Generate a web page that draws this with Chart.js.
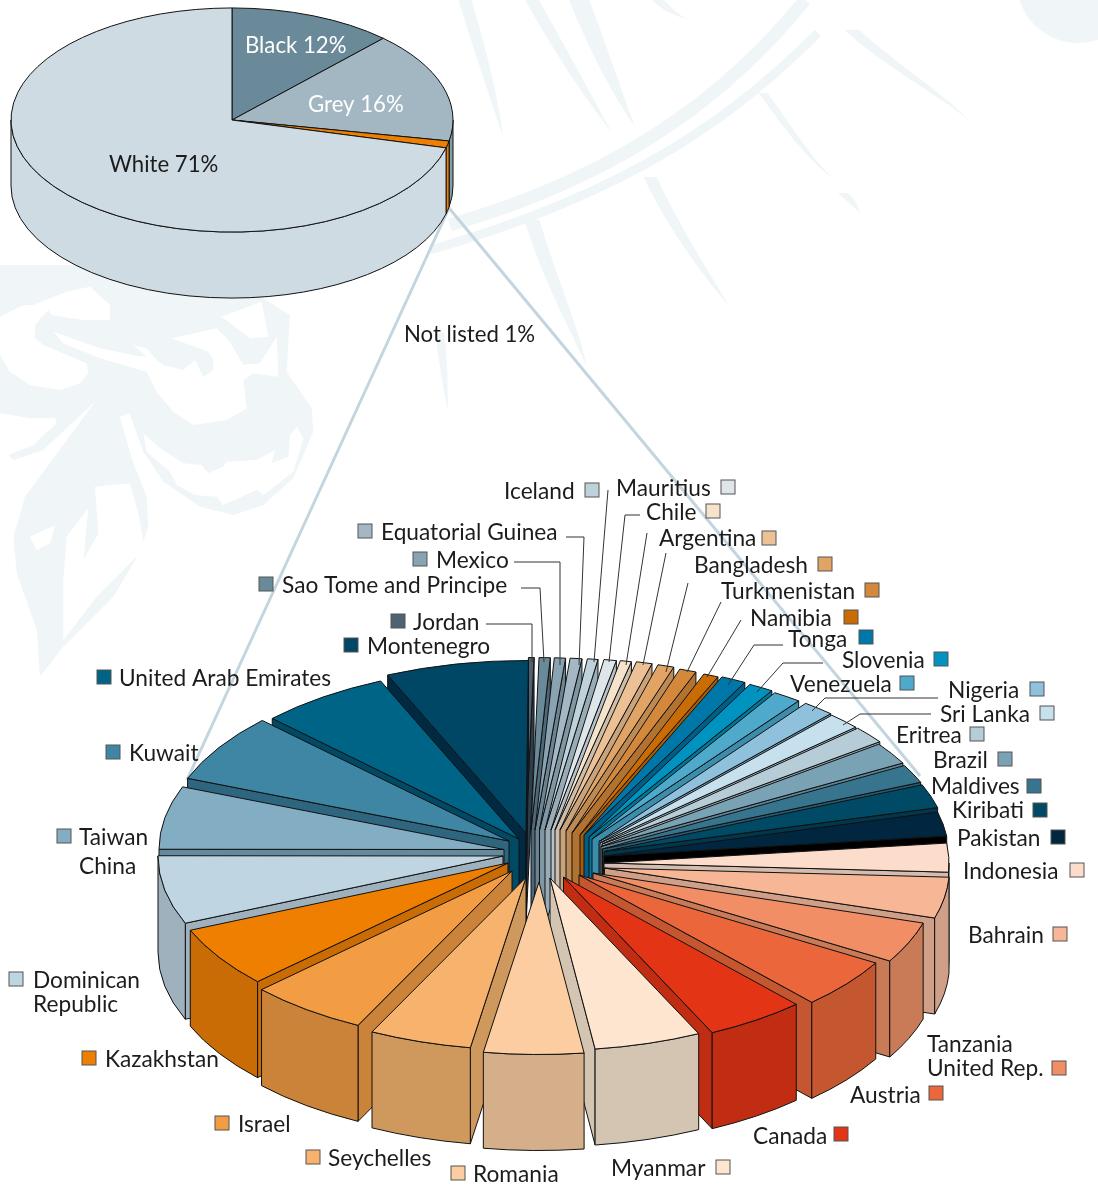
<!DOCTYPE html>
<html>
<head>
<meta charset="utf-8">
<title>Skin colour</title>
<script src="https://cdn.jsdelivr.net/npm/chart.js@4/dist/chart.umd.js"></script>
<style>
  html, body { margin: 0; padding: 0; background: #fff; overflow: hidden; }
  #wrap { position: relative; width: 1098px; height: 1186px; }
  canvas { position: absolute; left: 0; top: 0; }
</style>
</head>
<body>
<div id="wrap">
  <canvas id="detailPie" width="1098" height="1186"></canvas>
  <canvas id="mainPie" width="1098" height="1186"></canvas>
</div>
<script>
// top pie
const mainNames = ['Black', 'Grey', 'Not listed', 'White'];
const mainValues = [12, 16, 1, 71];

// lower pie: share of the "not listed" slice, clockwise from 12 o'clock
const countries = ['Jordan', 'Sao Tome and Principe', 'Mexico', 'Equatorial Guinea', 'Iceland', 'Mauritius',
  'Chile', 'Argentina', 'Bangladesh', 'Turkmenistan', 'Namibia', 'Tonga', 'Slovenia', 'Venezuela', 'Nigeria',
  'Sri Lanka', 'Eritrea', 'Brazil', 'Maldives', 'Kiribati', 'Pakistan', 'Indonesia', 'Bahrain',
  'Tanzania\nUnited Rep.', 'Austria', 'Canada', 'Myanmar', 'Romania', 'Seychelles', 'Israel', 'Kazakhstan',
  'Dominican\nRepublic', 'Taiwan\nChina', 'Kuwait', 'United Arab Emirates', 'Montenegro'];
const shares = [0.26, 0.52, 0.52, 0.55, 0.49, 0.58, 0.52, 0.74, 0.76, 0.79, 0.7, 1.17, 1.17, 1.33, 1.5,
  1.56, 1.61, 2.06, 1.72, 2.22, 2.25, 2.69, 3.83, 3.83, 4.69, 4.69, 5, 4.66, 4.78, 5.56, 5.69,
  6.39, 5.89, 6.39, 6.11, 6.67];

// colours
const mainColors = ['#6b8a99', '#a2b7c2', '#ee7f00', '#cfdbe2'];
const mainWalls = ['#56717f', '#7f9cab', '#ee7f00', '#cfdbe2'];
const topColors = ['#4d6373', '#6b8a99', '#8aa3b2', '#a3b8c4', '#bfd2dc', '#dfe6ea', '#f6e3cc', '#ebc195',
  '#e1a465', '#d4883b', '#c96c05', '#0077a9', '#0093bf', '#4fa9cb', '#8fc0dc', '#c7e0ed', '#b6ccd7', '#7aa2b5',
  '#37748e', '#004a66', '#002640', '#fcdccb', '#f7b696', '#f28e65', '#eb663b', '#e33516', '#fde5cf', '#fbcda0',
  '#f7b36d', '#f29c43', '#ef7f00', '#c0d5e2', '#82adc3', '#3f86a5', '#006487', '#004665'];
const wallColors = ['#2c3f4c', '#4d6878', '#6b8494', '#7f96a3', '#98acb7', '#b6c2c9', '#cdbda9', '#c9a37c',
  '#bd8a54', '#b27230', '#a85a04', '#005f88', '#00769a', '#3b8dac', '#72a2bd', '#a5bfcc', '#94aab5', '#5f8497',
  '#265a72', '#00374d', '#000000', '#d4bcae', '#d09f87', '#c97a57', '#c55730', '#c12d13', '#d4c4b2', '#d4af8a',
  '#cf985c', '#cb833a', '#c96c05', '#9eb1bd', '#668a9d', '#2e6680', '#004a66', '#002a42'];

// how far each wedge is pulled away from the pie centre
const explodeX = [-30, -25, -21, -16.5, -11, -5, -1, 4, 10, 16, 24, 28, 33, 36, 43, 44, 46, 45, 46.5, 48, 48,
  48, 48.5, 37, 23, 7.5, -6, -17, -30, -44, -48, -53, -52, -47, -37, -30];
const explodeY = [-25, -25, -25, -25, -25, -25, -25, -25, -24, -22, -20, -20, -18, -16, -13.5, -12, -11, -8.5, -6, -3.5, 1,
  8, 13, 18, 20, 22, 23, 27, 22.5, 16, 8, 1, -5.5, -14, -16, -22];

// label layout: text x, text y, swatch x, swatch y, line gap
const labelLayout = [[413, 621, 398, 621], [282, 584, 266, 584], [436, 559, 420, 559], [381, 531, 365, 531],
  [504, 490, 592, 490], [616, 487, 728, 487], [646, 511, 713, 511], [659, 537, 769, 538], [694, 564, 825, 564],
  [721, 590, 872, 590], [750, 617, 851, 617], [788, 638, 866, 637], [842, 659, 941, 659], [790, 683, 907, 683],
  [948, 689, 1037, 689], [940, 713, 1047, 713], [896, 734, 977, 734], [933, 759, 1005, 759], [931, 785, 1034, 786],
  [952, 809, 1040, 810], [957, 837, 1058, 837], [963, 870, 1077, 870], [968, 934, 1060, 934],
  [927, 1043, 1059, 1068, 24], [850, 1094, 936, 1093], [753, 1135, 841, 1134], [611, 1167, 723, 1167],
  [473, 1173, 458, 1173], [328, 1157, 313, 1157], [238, 1123, 222, 1123], [105, 1058, 89, 1058],
  [33, 979, 16, 979, 24], [79, 836, 64, 836, 29], [129, 752, 113, 752], [119, 677, 104, 677], [367, 645, 351, 645]];

const leaders = [
  [[486, 624], [532, 624], [532, 662]], [[521, 588], [540, 588], [544, 662]], [[514, 562], [560, 562], [560, 665]],
  [[566, 537], [584, 537], [579, 665]], [[608, 490], [594, 662]], [[640, 515], [625, 515], [609, 662]],
  [[647, 533], [626, 665]], [[666, 553], [643, 665]], [[688, 583], [666, 672]], [[721, 602], [687, 672]],
  [[741, 620], [707, 677]], [[783, 645], [754, 645], [728, 685]], [[823, 663], [783, 663], [757, 692]],
  [[938, 698], [825, 698], [812, 711]], [[931, 714], [860, 714], [843, 725]]
];

const font = '22.7px Lato, "Open Sans", sans-serif';
const mainFont = '22.2px Lato, "Open Sans", sans-serif';
const ink = '#1c1c1c';

// a pie wedge with an extruded side, seen from above
class Slice3D extends Chart.ArcElement {
  static id = 'slice3d';
  static defaults = { ...Chart.ArcElement.defaults, depth: 0, squash: 0.5, wallColor: '#888', shiftX: 0, shiftY: 0 };

  draw(ctx) {
    const { x, y, startAngle, endAngle, outerRadius } = this.getProps(['x', 'y', 'startAngle', 'endAngle', 'outerRadius']);
    const o = this.options;
    const cx = x + o.shiftX;
    const cy = y + o.shiftY;
    const rx = outerRadius;
    const ry = outerRadius * o.squash;
    const d = o.depth;
    const px = a => cx + rx * Math.cos(a);
    const py = a => cy + ry * Math.sin(a);

    ctx.save();
    ctx.lineJoin = 'round';
    ctx.lineWidth = o.borderWidth;
    ctx.strokeStyle = o.borderColor;
    const paint = (fill) => { ctx.fillStyle = fill; ctx.fill(); ctx.stroke(); };

    // radial walls, only the ones that face the viewer
    [[startAngle, -Math.cos(startAngle)], [endAngle, Math.cos(endAngle)]].forEach(([a, facing]) => {
      if (facing <= 0) return;
      ctx.beginPath();
      ctx.moveTo(cx, cy);
      ctx.lineTo(px(a), py(a));
      ctx.lineTo(px(a), py(a) + d);
      ctx.lineTo(cx, cy + d);
      ctx.closePath();
      paint(o.wallColor);
    });

    // outer rim, front half only
    [0, 2 * Math.PI].forEach(base => {
      const a1 = Math.max(startAngle, base);
      const a2 = Math.min(endAngle, base + Math.PI);
      if (a2 <= a1) return;
      ctx.beginPath();
      ctx.ellipse(cx, cy, rx, ry, 0, a1, a2);
      ctx.lineTo(px(a2), py(a2) + d);
      ctx.ellipse(cx, cy + d, rx, ry, 0, a2, a1, true);
      ctx.closePath();
      paint(o.wallColor);
    });

    // top face
    ctx.beginPath();
    ctx.moveTo(cx, cy);
    ctx.ellipse(cx, cy, rx, ry, 0, startAngle, endAngle);
    ctx.closePath();
    paint(o.backgroundColor);
    ctx.restore();
  }
}

class Pie3DController extends Chart.DoughnutController {
  static id = 'pie3d';
  static defaults = { ...Chart.DoughnutController.defaults, dataElementType: 'slice3d' };
  static overrides = Chart.DoughnutController.overrides;

  // back to front
  draw() {
    const ctx = this.chart.ctx;
    const mid = el => Math.sin((el.startAngle + el.endAngle) / 2);
    [...this._cachedMeta.data].sort((a, b) => mid(a) - mid(b)).forEach(el => el.draw(ctx));
  }
}
Chart.register(Slice3D, Pie3DController);

// pale drawing behind everything. Branches: width, then bezier from thick end to tip
const paleBands = [
  [13, 805, 0, 740, 80, 640, 170, 450, 225], [9, 818, 33, 740, 110, 640, 190, 430, 250]
];
const paleSpikes = [
  [9, 763, 93, 790, 130, 810, 160, 835, 180], [13, 650, 177, 675, 230, 710, 280, 730, 307],
  [15, 532, 220, 550, 280, 575, 330, 587, 367], [13, 465, 0, 480, 50, 495, 100, 503, 137],
  [14, 532, 0, 560, 50, 590, 100, 612, 133], [20, 579, 0, 595, 40, 615, 90, 635, 127],
  [15, 852, 30, 890, 65, 935, 90, 969, 120], [12, 658, 0, 665, 8, 675, 15, 690, 20],
  [10, 843, 193, 850, 200, 855, 205, 860, 213], [9, 440, 333, 443, 360, 445, 385, 448, 410]
];
// left figure, polygons in its own coordinates (scaled 3x, origin 0,285)
const paleFigure = [
  [0, -60, 790, -60, 790, 40, 870, 90, 860, 260, 935, 370, 940, 440, 880, 580, 790, 660, 700, 690, 600, 665, 490, 590,
    430, 500, 388, 385, 360, 395, 285, 350, 130, 495, 40, 525, 25, 510, 100, 480, 170, 415, 165, 400, 90, 400, 0, 385],
  [285, 350, 360, 395, 395, 520, 440, 635, 445, 725, 430, 770, 415, 685, 390, 595, 285, 605, 295, 745, 250, 825,
    265, 670, 200, 755, 190, 885, 190, 1065, 290, 935, 415, 810, 340, 935, 190, 1085, 120, 1175, 110, 1035, 50, 865,
    40, 755, 75, 635]
];
const whiteFigure = [
  [270, 5, 330, 60, 330, 105, 250, 105, 155, 90, 145, 75, 105, 120, 105, 160, 130, 180, 260, 235, 265, 265, 240, 295,
    180, 315, 90, 300, 30, 260, 0, 210, 0, 95, 60, 65, 80, 60, 100, 60, 200, 20],
  [160, 140, 300, 190, 410, 212, 440, 215, 400, 180, 440, 190, 470, 225, 490, 240, 550, 255, 585, 225, 610, 275, 640, 255,
    640, 225, 625, 200, 515, 160, 650, 130, 690, 170, 730, 240, 780, 235, 830, 155, 835, 275, 760, 265, 730, 285,
    740, 370, 680, 405, 580, 420, 520, 380, 470, 320, 440, 260, 300, 220, 190, 175],
  [665, 95, 750, 160, 805, 155, 785, 50],
  [430, 445, 480, 490, 550, 535, 605, 540, 625, 565, 670, 545, 680, 530, 770, 525, 825, 495, 815, 535, 865, 515, 870, 450,
    890, 425, 910, 460, 880, 560, 790, 630, 770, 615, 670, 660, 650, 635, 585, 630, 530, 600, 510, 560, 440, 500],
  [90, 755, 165, 720, 150, 775, 110, 795]
];

function fillPoly(ctx, pts) {
  ctx.beginPath();
  for (let i = 0; i < pts.length; i += 2) ctx.lineTo(pts[i] / 3, 285 + pts[i + 1] / 3);
  ctx.closePath();
  ctx.fill();
}

const pale = '#f0f6f8';
const backdrop = {
  id: 'backdrop',
  beforeDraw(chart) {
    const ctx = chart.ctx;
    ctx.save();
    ctx.strokeStyle = pale;
    ctx.fillStyle = pale;
    paleBands.forEach(s => {
      ctx.lineWidth = s[0];
      ctx.beginPath();
      ctx.moveTo(s[1], s[2]);
      ctx.bezierCurveTo(s[3], s[4], s[5], s[6], s[7], s[8]);
      ctx.stroke();
    });
    paleSpikes.forEach(s => {
      const w = s[0] / 2;
      ctx.beginPath();
      ctx.moveTo(s[1] - w, s[2]);
      ctx.bezierCurveTo(s[3] - w, s[4], s[5] - w * 0.6, s[6], s[7], s[8]);
      ctx.bezierCurveTo(s[5] + w * 0.6, s[6], s[3] + w, s[4], s[1] + w, s[2]);
      ctx.closePath();
      ctx.fill();
    });
    ctx.beginPath();
    ctx.ellipse(1078, -20, 62, 63, 0, 0, Math.PI * 2);
    ctx.fill();
    paleFigure.forEach(p => fillPoly(ctx, p));
    ctx.fillStyle = '#fff';
    whiteFigure.forEach(p => fillPoly(ctx, p));
    // the two lines that tie the orange slice to the lower pie
    ctx.strokeStyle = '#c3d5df';
    ctx.lineWidth = 3;
    ctx.beginPath();
    ctx.moveTo(449, 208);
    ctx.lineTo(187, 780);
    ctx.moveTo(449, 208);
    ctx.lineTo(920, 776);
    ctx.stroke();
    ctx.restore();
  }
};

const countryLabels = {
  id: 'countryLabels',
  afterDraw(chart) {
    const ctx = chart.ctx;
    ctx.save();
    ctx.strokeStyle = '#333';
    ctx.lineWidth = 1;
    leaders.forEach(line => {
      ctx.beginPath();
      line.forEach((p, i) => i ? ctx.lineTo(p[0], p[1]) : ctx.moveTo(p[0], p[1]));
      ctx.stroke();
    });
    ctx.font = font;
    ctx.textBaseline = 'middle';
    countries.forEach((name, i) => {
      const [tx, ty, sx, sy, gap] = labelLayout[i];
      ctx.fillStyle = ink;
      name.split('\n').forEach((part, k) => ctx.fillText(part, tx, ty + 2 + k * (gap || 0)));
      ctx.fillStyle = topColors[i];
      ctx.strokeStyle = '#555';
      ctx.fillRect(sx - 7, sy - 7, 14, 14);
      ctx.strokeRect(sx - 7, sy - 7, 14, 14);
    });
    ctx.restore();
  }
};

const mainLabels = {
  id: 'mainLabels',
  afterDraw(chart) {
    const ctx = chart.ctx;
    ctx.save();
    ctx.font = mainFont;
    ctx.textBaseline = 'middle';
    const spots = [[245, 46, '#fff'], [308, 105, '#fff'], [404, 335, ink], [109, 165, ink]];
    mainNames.forEach((name, i) => {
      ctx.fillStyle = spots[i][2];
      ctx.fillText(name + ' ' + mainValues[i] + '%', spots[i][0], spots[i][1]);
    });
    ctx.restore();
  }
};

new Chart(document.getElementById('detailPie').getContext('2d'), {
  type: 'pie3d',
  data: {
    labels: countries,
    datasets: [{
      data: shares,
      radius: 345,
      backgroundColor: topColors,
      wallColor: wallColors,
      shiftX: explodeX,
      shiftY: explodeY,
      depth: 96,
      squash: 0.5,
      borderColor: '#111',
      borderWidth: 1
    }]
  },
  options: {
    responsive: false,
    animation: false,
    rotation: 0.4,
    layout: { padding: { left: 14, right: 0, top: 524, bottom: 0 } },
    plugins: { legend: { display: false }, tooltip: { enabled: false } }
  },
  plugins: [backdrop, countryLabels]
});

new Chart(document.getElementById('mainPie').getContext('2d'), {
  type: 'pie3d',
  data: {
    labels: mainNames,
    datasets: [{
      data: mainValues,
      radius: 221,
      backgroundColor: mainColors,
      wallColor: mainWalls,
      depth: 66,
      squash: 0.507,
      borderColor: '#111',
      borderWidth: 1
    }]
  },
  options: {
    responsive: false,
    animation: false,
    layout: { padding: { left: 0, right: 634, top: 0, bottom: 946 } },
    plugins: { legend: { display: false }, tooltip: { enabled: false } }
  },
  plugins: [mainLabels]
});
</script>
</body>
</html>
